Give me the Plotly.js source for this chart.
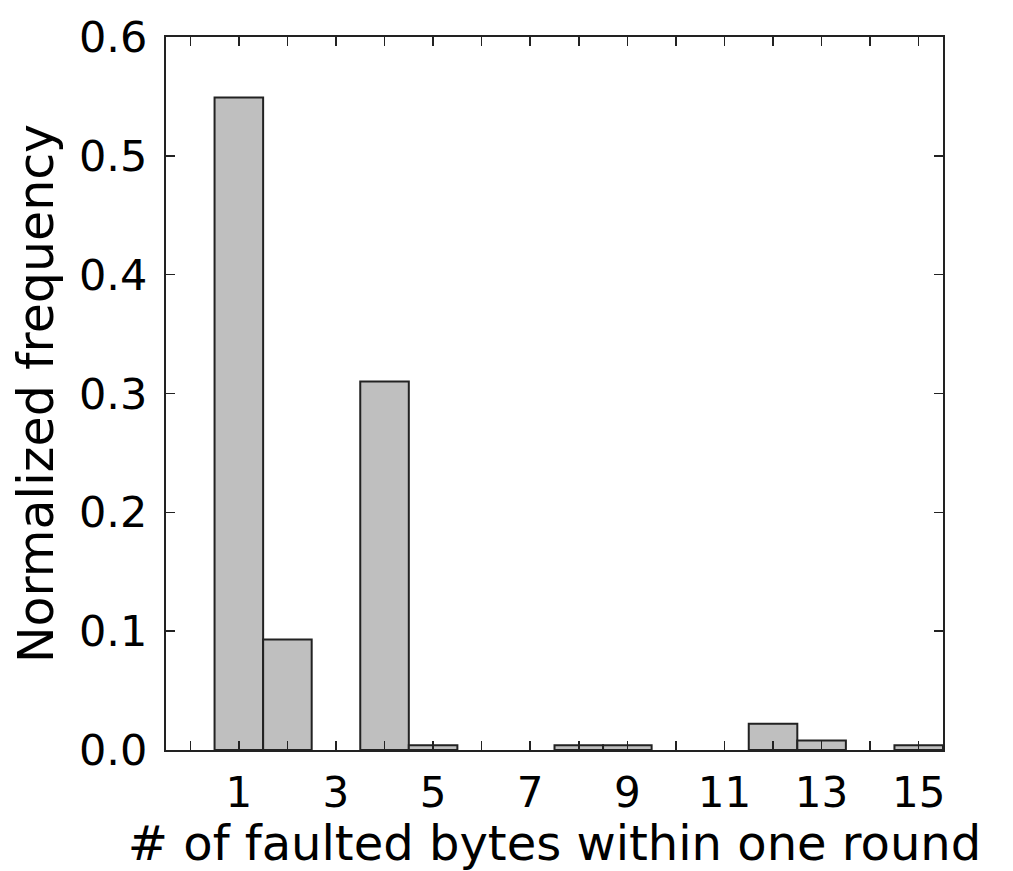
<!DOCTYPE html>
<html>
<head>
<meta charset="utf-8">
<script src="https://cdn.plot.ly/plotly-3.0.1.min.js"></script>
<style>html,body{margin:0;padding:0;background:#fff;}#chart{width:1013px;height:871px;}</style>
</head>
<body>
<div id="chart"></div>
<script>
var faultedBytes = [1, 2, 4, 5, 8, 9, 12, 13, 15];
var frequency = [0.549, 0.093, 0.310, 0.004, 0.004, 0.004, 0.022, 0.008, 0.004];
var xTickVals = [0,1,2,3,4,5,6,7,8,9,10,11,12,13,14,15];
var xTickText = ['', '1', '', '3', '', '5', '', '7', '', '9', '', '11', '', '13', '', '15'];
var yTickVals = [0, 0.1, 0.2, 0.3, 0.4, 0.5, 0.6];
var yTickText = ['0.0', '0.1', '0.2', '0.3', '0.4', '0.5', '0.6'];

var fontFam = 'DejaVu Sans, sans-serif';
var trace = {
  type: 'bar',
  x: faultedBytes,
  y: frequency,
  width: 1,
  marker: {color: '#bfbfbf', line: {color: '#222222', width: 2}},
  hoverinfo: 'skip'
};
var layout = {
  width: 1013, height: 871,
  margin: {l: 166, r: 70, t: 37, b: 121, pad: 0},
  paper_bgcolor: '#ffffff', plot_bgcolor: '#ffffff',
  showlegend: false,
  font: {family: fontFam, color: '#000000', size: 42},
  xaxis: {
    range: [-0.5, 15.5],
    tickmode: 'array', tickvals: xTickVals, ticktext: xTickText,
    ticks: 'inside', ticklen: 9, tickwidth: 1.5, tickcolor: '#222',
    showline: true, linecolor: '#222', linewidth: 2, mirror: 'ticks',
    showgrid: false, zeroline: false,
    tickfont: {family: fontFam, size: 42, color: '#000'},
    ticklabelstandoff: 5,
    title: {text: '# of faulted bytes within one round', font: {family: fontFam, size: 48, color: '#000'}, standoff: 10}
  },
  yaxis: {
    range: [0, 0.6],
    tickmode: 'array', tickvals: yTickVals, ticktext: yTickText,
    ticks: 'inside', ticklen: 9, tickwidth: 1.5, tickcolor: '#222',
    showline: true, linecolor: '#222', linewidth: 2, mirror: 'ticks',
    showgrid: false, zeroline: false,
    tickfont: {family: fontFam, size: 43, color: '#000'},
    ticklabelstandoff: 8,
    title: {text: 'Normalized frequency', font: {family: fontFam, size: 49, color: '#000'}, standoff: 10}
  },
  bargap: 0
};
Plotly.newPlot('chart', [trace], layout, {displayModeBar: false, staticPlot: true});
</script>
</body>
</html>
